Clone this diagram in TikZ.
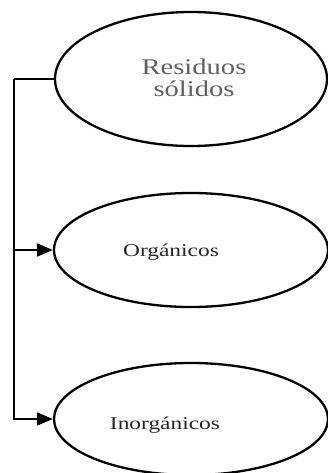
\documentclass[tikz,border=0pt]{standalone}
\usepackage{fontspec}
\setmainfont{Liberation Serif}
\usetikzlibrary{shapes.geometric,arrows.meta}
\definecolor{lightink}{HTML}{606060}
\definecolor{darkink}{HTML}{262626}
\tikzset{
  oval/.style={draw=black,line width=2.3pt,ellipse,inner sep=0pt},
  link/.style={draw=black,line width=2.1pt},
  linkarrow/.style={link,-{Triangle[length=16pt,width=13pt]}},
  bigtxt/.style={font=\fontsize{22.5}{22}\selectfont,text=lightink},
  smalltxt/.style={font=\fontsize{18}{20}\selectfont,text=darkink}
}
\begin{document}
\begin{tikzpicture}[x=1pt,y=-1pt]
\useasboundingbox (0,0) rectangle (327,473);
\node[oval,minimum width=272pt,minimum height=134pt,
      label={[bigtxt,xshift=3pt,yshift=-2pt,align=center]center:\scalebox{1.27}[1]{\begin{tabular}{@{}c@{}}Residuos\\sólidos\end{tabular}}}]
      (r) at (191,79) {};
\node[oval,minimum width=274pt,minimum height=114pt,
      label={[smalltxt,xshift=-20pt,yshift=-2pt]center:\scalebox{1.3}[1]{Orgánicos}}]
      (o) at (191,250) {};
\node[oval,minimum width=274pt,minimum height=112pt,
      label={[smalltxt,xshift=-26pt,yshift=-6pt]center:\scalebox{1.3}[1]{Inorgánicos}}]
      (i) at (191,419) {};
\coordinate (j) at (14,79);
\draw[link] (r.west) -- (j);
\draw[linkarrow] (j) |- (o.west);
\draw[linkarrow] (j) |- (i.west);
\end{tikzpicture}
\end{document}
